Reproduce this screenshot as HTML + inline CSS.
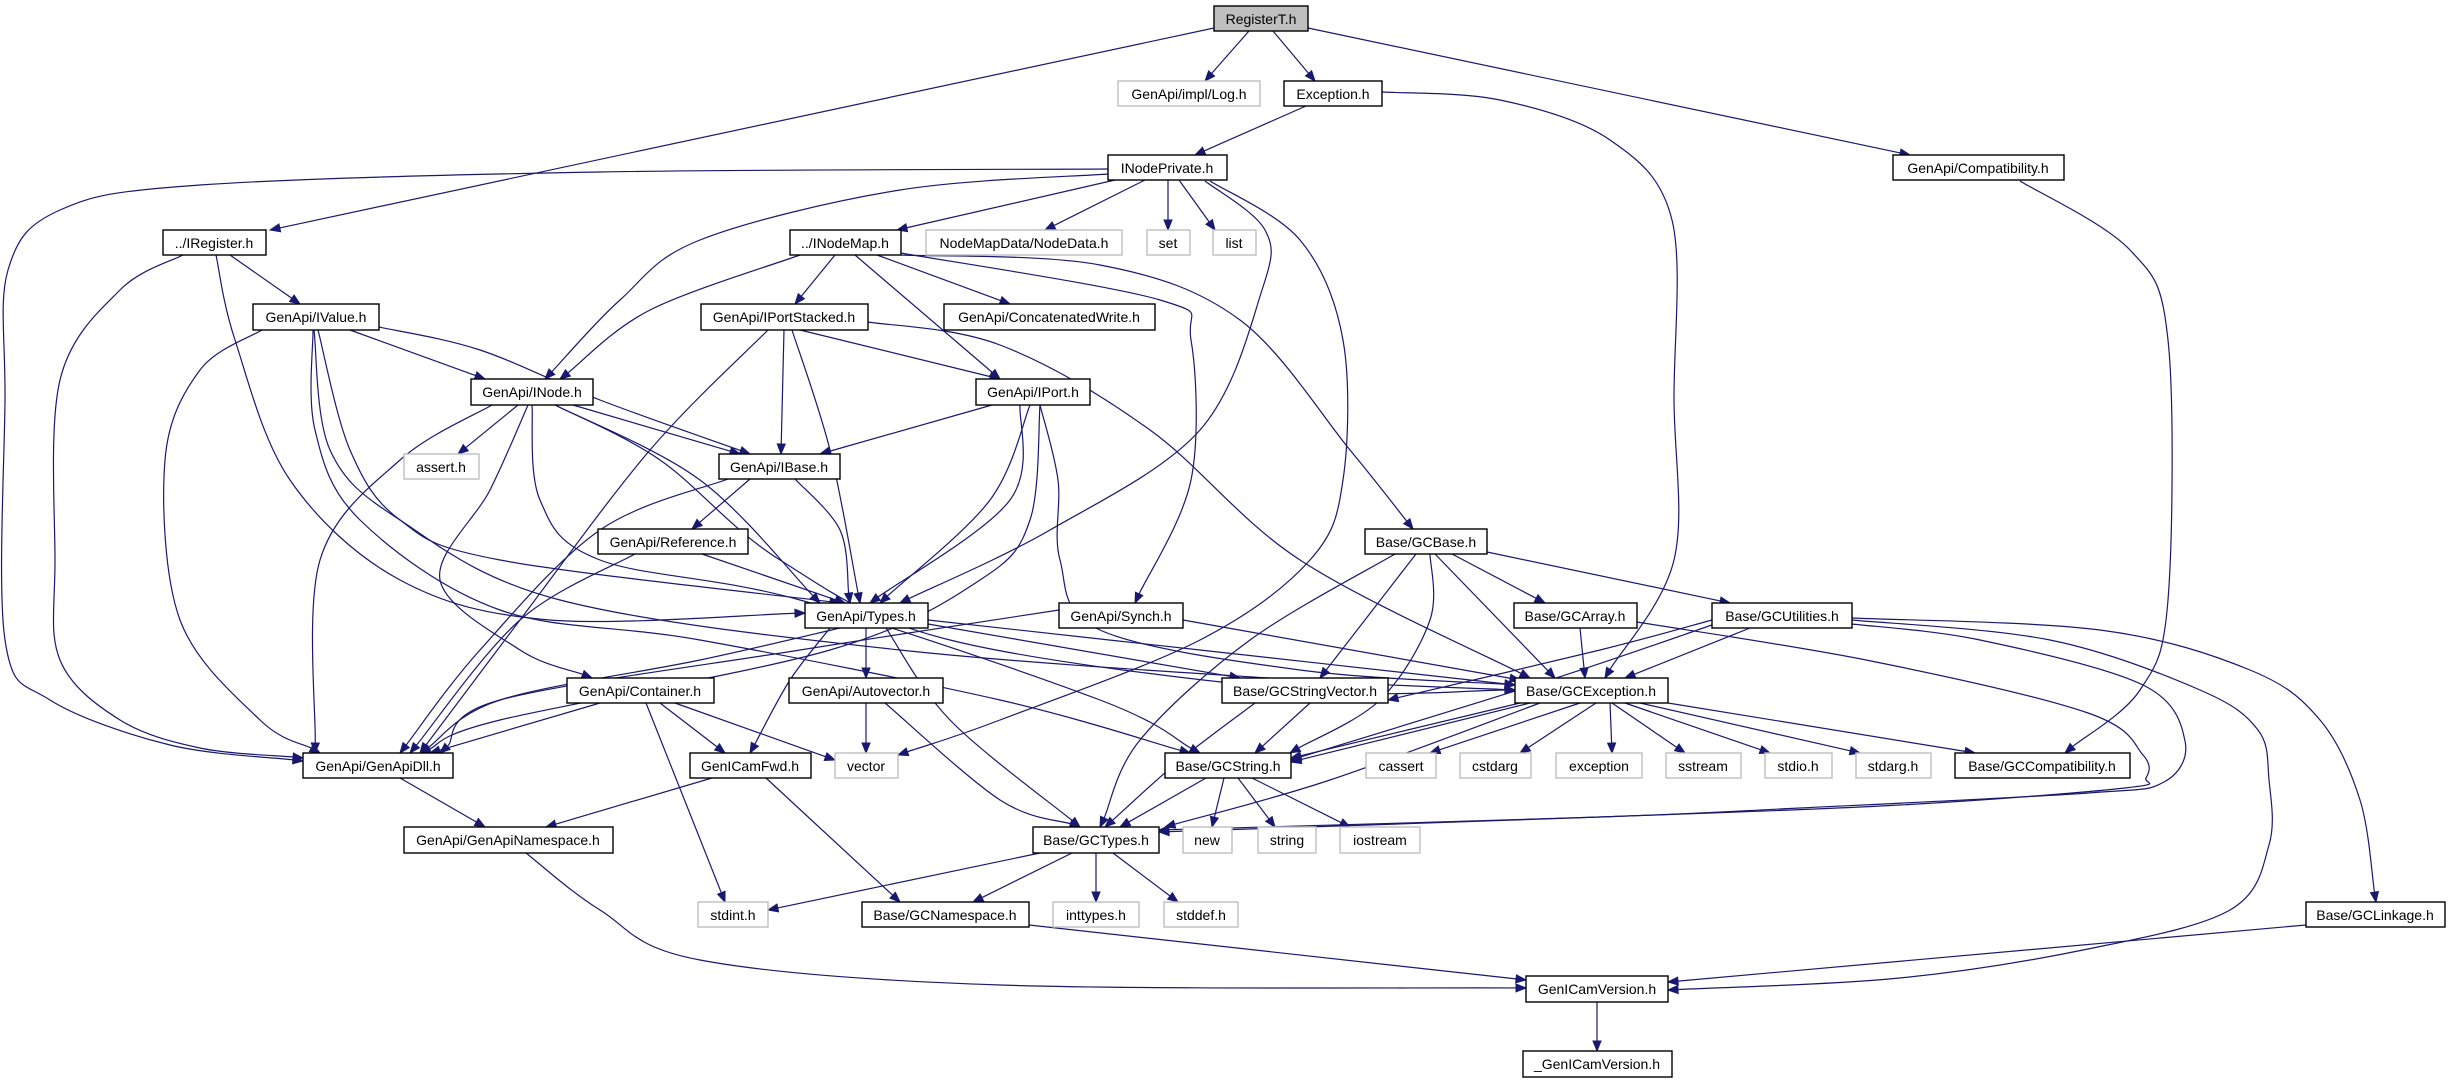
<!DOCTYPE html>
<html><head><meta charset="utf-8">
<style>
html,body{margin:0;padding:0;background:#fff;}
svg{display:block;}
text{font-family:"Liberation Sans",sans-serif;font-size:14px;fill:#000;}
</style></head>
<body>
<svg id="g" xmlns="http://www.w3.org/2000/svg" width="2451" height="1083" viewBox="0 0 2451 1083">
<g id="edges" fill="none" stroke="#191970" stroke-width="1.2"></g>
<g id="arrows" fill="#191970" stroke="#191970"></g>
<g id="nodes" stroke-width="1.4">
<rect x="1214" y="6" width="94" height="25" fill="#bfbfbf" stroke="#000"/><text x="1261" y="24" text-anchor="middle">RegisterT.h</text>
<rect x="1118" y="81" width="142" height="25" fill="#fff" stroke="#bfbfbf"/><text x="1189" y="99" text-anchor="middle">GenApi/impl/Log.h</text>
<rect x="1284" y="81" width="98" height="25" fill="#fff" stroke="#000"/><text x="1333" y="99" text-anchor="middle">Exception.h</text>
<rect x="1108" y="155" width="119" height="25" fill="#fff" stroke="#000"/><text x="1167" y="173" text-anchor="middle">INodePrivate.h</text>
<rect x="1893" y="155" width="171" height="25" fill="#fff" stroke="#000"/><text x="1978" y="173" text-anchor="middle">GenApi/Compatibility.h</text>
<rect x="163" y="230" width="103" height="25" fill="#fff" stroke="#000"/><text x="214" y="248" text-anchor="middle">../IRegister.h</text>
<rect x="790" y="230" width="111" height="25" fill="#fff" stroke="#000"/><text x="845" y="248" text-anchor="middle">../INodeMap.h</text>
<rect x="926" y="230" width="196" height="25" fill="#fff" stroke="#bfbfbf"/><text x="1024" y="248" text-anchor="middle">NodeMapData/NodeData.h</text>
<rect x="1147" y="230" width="43" height="25" fill="#fff" stroke="#bfbfbf"/><text x="1168" y="248" text-anchor="middle">set</text>
<rect x="1213" y="230" width="43" height="25" fill="#fff" stroke="#bfbfbf"/><text x="1234" y="248" text-anchor="middle">list</text>
<rect x="253" y="304" width="126" height="26" fill="#fff" stroke="#000"/><text x="316" y="322" text-anchor="middle">GenApi/IValue.h</text>
<rect x="701" y="304" width="167" height="26" fill="#fff" stroke="#000"/><text x="784" y="322" text-anchor="middle">GenApi/IPortStacked.h</text>
<rect x="944" y="304" width="211" height="26" fill="#fff" stroke="#000"/><text x="1049" y="322" text-anchor="middle">GenApi/ConcatenatedWrite.h</text>
<rect x="471" y="379" width="122" height="26" fill="#fff" stroke="#000"/><text x="532" y="397" text-anchor="middle">GenApi/INode.h</text>
<rect x="976" y="379" width="114" height="26" fill="#fff" stroke="#000"/><text x="1033" y="397" text-anchor="middle">GenApi/IPort.h</text>
<rect x="404" y="454" width="75" height="25" fill="#fff" stroke="#bfbfbf"/><text x="441" y="472" text-anchor="middle">assert.h</text>
<rect x="719" y="454" width="121" height="25" fill="#fff" stroke="#000"/><text x="779" y="472" text-anchor="middle">GenApi/IBase.h</text>
<rect x="598" y="529" width="150" height="25" fill="#fff" stroke="#000"/><text x="673" y="547" text-anchor="middle">GenApi/Reference.h</text>
<rect x="1365" y="529" width="122" height="25" fill="#fff" stroke="#000"/><text x="1426" y="547" text-anchor="middle">Base/GCBase.h</text>
<rect x="805" y="603" width="123" height="25" fill="#fff" stroke="#000"/><text x="866" y="621" text-anchor="middle">GenApi/Types.h</text>
<rect x="1059" y="603" width="124" height="25" fill="#fff" stroke="#000"/><text x="1121" y="621" text-anchor="middle">GenApi/Synch.h</text>
<rect x="1514" y="603" width="123" height="25" fill="#fff" stroke="#000"/><text x="1575" y="621" text-anchor="middle">Base/GCArray.h</text>
<rect x="1712" y="603" width="140" height="25" fill="#fff" stroke="#000"/><text x="1782" y="621" text-anchor="middle">Base/GCUtilities.h</text>
<rect x="567" y="678" width="147" height="25" fill="#fff" stroke="#000"/><text x="640" y="696" text-anchor="middle">GenApi/Container.h</text>
<rect x="789" y="678" width="154" height="25" fill="#fff" stroke="#000"/><text x="866" y="696" text-anchor="middle">GenApi/Autovector.h</text>
<rect x="1222" y="678" width="166" height="25" fill="#fff" stroke="#000"/><text x="1305" y="696" text-anchor="middle">Base/GCStringVector.h</text>
<rect x="1515" y="678" width="153" height="25" fill="#fff" stroke="#000"/><text x="1591" y="696" text-anchor="middle">Base/GCException.h</text>
<rect x="303" y="753" width="150" height="25" fill="#fff" stroke="#000"/><text x="378" y="771" text-anchor="middle">GenApi/GenApiDll.h</text>
<rect x="690" y="753" width="121" height="25" fill="#fff" stroke="#000"/><text x="750" y="771" text-anchor="middle">GenICamFwd.h</text>
<rect x="835" y="753" width="63" height="25" fill="#fff" stroke="#bfbfbf"/><text x="866" y="771" text-anchor="middle">vector</text>
<rect x="1165" y="753" width="126" height="25" fill="#fff" stroke="#000"/><text x="1228" y="771" text-anchor="middle">Base/GCString.h</text>
<rect x="1366" y="753" width="70" height="25" fill="#fff" stroke="#bfbfbf"/><text x="1401" y="771" text-anchor="middle">cassert</text>
<rect x="1460" y="753" width="71" height="25" fill="#fff" stroke="#bfbfbf"/><text x="1495" y="771" text-anchor="middle">cstdarg</text>
<rect x="1556" y="753" width="86" height="25" fill="#fff" stroke="#bfbfbf"/><text x="1599" y="771" text-anchor="middle">exception</text>
<rect x="1666" y="753" width="75" height="25" fill="#fff" stroke="#bfbfbf"/><text x="1703" y="771" text-anchor="middle">sstream</text>
<rect x="1765" y="753" width="67" height="25" fill="#fff" stroke="#bfbfbf"/><text x="1798" y="771" text-anchor="middle">stdio.h</text>
<rect x="1856" y="753" width="75" height="25" fill="#fff" stroke="#bfbfbf"/><text x="1893" y="771" text-anchor="middle">stdarg.h</text>
<rect x="1955" y="753" width="175" height="25" fill="#fff" stroke="#000"/><text x="2042" y="771" text-anchor="middle">Base/GCCompatibility.h</text>
<rect x="404" y="827" width="209" height="26" fill="#fff" stroke="#000"/><text x="508" y="845" text-anchor="middle">GenApi/GenApiNamespace.h</text>
<rect x="1033" y="827" width="126" height="26" fill="#fff" stroke="#000"/><text x="1096" y="845" text-anchor="middle">Base/GCTypes.h</text>
<rect x="1183" y="827" width="49" height="26" fill="#fff" stroke="#bfbfbf"/><text x="1207" y="845" text-anchor="middle">new</text>
<rect x="1258" y="827" width="58" height="26" fill="#fff" stroke="#bfbfbf"/><text x="1287" y="845" text-anchor="middle">string</text>
<rect x="1340" y="827" width="80" height="26" fill="#fff" stroke="#bfbfbf"/><text x="1380" y="845" text-anchor="middle">iostream</text>
<rect x="698" y="902" width="70" height="25" fill="#fff" stroke="#bfbfbf"/><text x="733" y="920" text-anchor="middle">stdint.h</text>
<rect x="862" y="902" width="167" height="25" fill="#fff" stroke="#000"/><text x="945" y="920" text-anchor="middle">Base/GCNamespace.h</text>
<rect x="1053" y="902" width="86" height="25" fill="#fff" stroke="#bfbfbf"/><text x="1096" y="920" text-anchor="middle">inttypes.h</text>
<rect x="1164" y="902" width="74" height="25" fill="#fff" stroke="#bfbfbf"/><text x="1201" y="920" text-anchor="middle">stddef.h</text>
<rect x="2306" y="902" width="139" height="25" fill="#fff" stroke="#000"/><text x="2375" y="920" text-anchor="middle">Base/GCLinkage.h</text>
<rect x="1526" y="976" width="142" height="26" fill="#fff" stroke="#000"/><text x="1597" y="994" text-anchor="middle">GenICamVersion.h</text>
<rect x="1523" y="1051" width="149" height="26" fill="#fff" stroke="#000"/><text x="1597" y="1069" text-anchor="middle">_GenICamVersion.h</text>
</g>
</svg>
<script>
var E=[
[[1214,28],[270,230]],
[[1249,31],[1205,81]],
[[1273,31],[1315,81]],
[[1308,28],[1910,155]],
[[1306,106],[1195,155]],
[[1382,92],[1500,100],[1610,140],[1672,220],[1674,400],[1674,560],[1605,678]],
[[2020,181],[2130,250],[2168,340],[2168,600],[2140,690],[2065,753]],
[[1108,169],[600,172],[200,185],[60,210],[8,270],[5,400],[5,640],[50,700],[170,745],[303,761]],
[[1108,174],[900,190],[700,240],[620,300],[545,379]],
[[1115,180],[897,230]],
[[1145,180],[1045,230]],
[[1168,180],[1168,230]],
[[1179,180],[1215,230]],
[[1205,181],[1265,230],[1262,290],[1200,430],[1050,530],[900,603]],
[[1210,181],[1300,240],[1343,340],[1343,480],[1310,560],[1200,640],[1000,720],[898,755]],
[[230,255],[300,304]],
[[183,255],[120,290],[60,380],[55,560],[60,660],[120,720],[200,748],[303,758]],
[[216,255],[235,340],[290,480],[400,580],[550,620],[805,613]],
[[350,330],[485,379]],
[[379,327],[480,350],[600,400],[750,454]],
[[262,330],[200,370],[165,460],[180,620],[260,720],[320,753]],
[[318,330],[350,450],[400,520],[500,560],[840,603]],
[[313,330],[315,430],[360,520],[500,610],[700,640],[1000,700],[1190,753]],
[[314,330],[330,450],[400,520],[560,600],[900,650],[1300,680],[1515,690]],
[[784,330],[781,454]],
[[800,330],[1000,379]],
[[792,330],[830,450],[860,603]],
[[768,330],[650,450],[520,620],[420,753]],
[[868,322],[1000,345],[1150,430],[1300,560],[1530,678]],
[[835,255],[795,304]],
[[800,255],[650,310],[560,379]],
[[877,255],[1010,304]],
[[855,255],[1000,379]],
[[901,255],[1100,265],[1240,320],[1350,450],[1413,529]],
[[901,253],[1160,300],[1191,340],[1191,480],[1135,603]],
[[518,405],[458,454]],
[[573,405],[740,454]],
[[555,405],[700,480],[820,603]],
[[492,405],[400,460],[320,560],[315,753]],
[[528,405],[490,490],[440,580],[520,650],[592,678]],
[[532,405],[540,500],[600,560],[800,600],[1100,700],[1200,753]],
[[555,405],[660,460],[780,560],[950,640],[1300,690],[1515,690]],
[[992,405],[820,454]],
[[1030,405],[990,500],[880,603]],
[[1020,405],[1010,500],[870,603]],
[[1040,405],[1030,520],[980,580],[830,650],[500,720],[420,753]],
[[1040,405],[1058,480],[1060,560],[1100,630],[1300,670],[1515,685]],
[[750,479],[692,529]],
[[795,479],[840,530],[850,603]],
[[728,479],[600,530],[480,650],[400,753]],
[[702,554],[845,603]],
[[635,554],[520,620],[410,753]],
[[866,628],[866,678]],
[[840,628],[700,660],[500,700],[420,753]],
[[886,628],[950,720],[1080,827]],
[[830,628],[790,680],[750,753]],
[[928,624],[1240,678]],
[[928,620],[1200,650],[1515,685]],
[[1059,610],[800,650],[500,700],[440,753]],
[[1183,620],[1520,680]],
[[866,703],[866,753]],
[[885,703],[1000,800],[1080,827]],
[[600,703],[430,753]],
[[660,703],[725,753]],
[[675,703],[835,760]],
[[646,703],[725,902]],
[[1452,554],[1545,603]],
[[1487,552],[1730,603]],
[[1435,554],[1555,678]],
[[1416,554],[1320,678]],
[[1430,554],[1430,620],[1380,700],[1290,753]],
[[1395,554],[1250,640],[1140,740],[1100,827]],
[[1580,628],[1585,678]],
[[1637,622],[1871,661],[2088,713],[2143,755],[2146,778],[2125,788],[1900,805],[1600,817],[1159,832]],
[[1750,628],[1625,678]],
[[1712,620],[1600,650],[1388,700]],
[[1712,625],[1550,680],[1291,760]],
[[1852,624],[1980,640],[2143,685],[2185,741],[2164,782],[2088,793],[1800,808],[1600,817],[1159,830]],
[[1852,620],[2050,640],[2200,690],[2258,730],[2269,780],[2269,845],[2230,910],[2088,949],[1900,978],[1668,990]],
[[1852,618],[2100,630],[2250,670],[2320,720],[2360,800],[2376,902]],
[[1310,703],[1255,753]],
[[1255,703],[1180,760],[1105,827]],
[[1530,703],[1291,762]],
[[1520,703],[1291,758]],
[[1540,703],[1330,780],[1165,827]],
[[1580,703],[1430,753]],
[[1596,703],[1520,753]],
[[1610,703],[1612,753]],
[[1612,703],[1685,753]],
[[1625,703],[1770,753]],
[[1640,703],[1860,753]],
[[1668,703],[1975,753]],
[[400,778],[485,827]],
[[712,778],[546,827]],
[[766,778],[900,902]],
[[1206,778],[1120,827]],
[[1224,778],[1212,827]],
[[1238,778],[1275,827]],
[[1252,778],[1350,827]],
[[1040,853],[768,910]],
[[1072,853],[973,902]],
[[1096,853],[1096,902]],
[[1113,853],[1178,902]],
[[526,853],[600,910],[700,960],[1000,985],[1526,988]],
[[1029,925],[1526,980]],
[[2306,925],[1668,982]],
[[1597,1002],[1597,1051]]
];
var NS="http://www.w3.org/2000/svg",eg=document.getElementById('edges'),ag=document.getElementById('arrows');
E.forEach(function(p){
 var n=p.length,end=p[n-1];
 var a=p[n-2],dx=end[0]-a[0],dy=end[1]-a[1],L=Math.sqrt(dx*dx+dy*dy)||1,ux=dx/L,uy=dy/L;
 var tip=end,base=[end[0]-ux*10,end[1]-uy*10];
 var q=p.slice();q[n-1]=base;
 var d="M"+q[0][0]+","+q[0][1];
 if(n==2){d+=" L"+base[0]+","+base[1];}
 else{
  for(var i=0;i<n-1;i++){
   var p0=q[i-1]||q[i],p1=q[i],p2=q[i+1],p3=q[i+2]||q[i+1];
   var c1=[p1[0]+(p2[0]-p0[0])/6,p1[1]+(p2[1]-p0[1])/6],c2=[p2[0]-(p3[0]-p1[0])/6,p2[1]-(p3[1]-p1[1])/6];
   d+=" C"+c1[0]+","+c1[1]+" "+c2[0]+","+c2[1]+" "+p2[0]+","+p2[1];
  }
 }
 var pa=document.createElementNS(NS,'path');pa.setAttribute('d',d);eg.appendChild(pa);
 var px=-uy,py=ux;
 var pl=document.createElementNS(NS,'polygon');
 pl.setAttribute('points',tip[0]+","+tip[1]+" "+(base[0]+px*4)+","+(base[1]+py*4)+" "+(base[0]-px*4)+","+(base[1]-py*4));
 ag.appendChild(pl);
});
</script>
</body></html>
